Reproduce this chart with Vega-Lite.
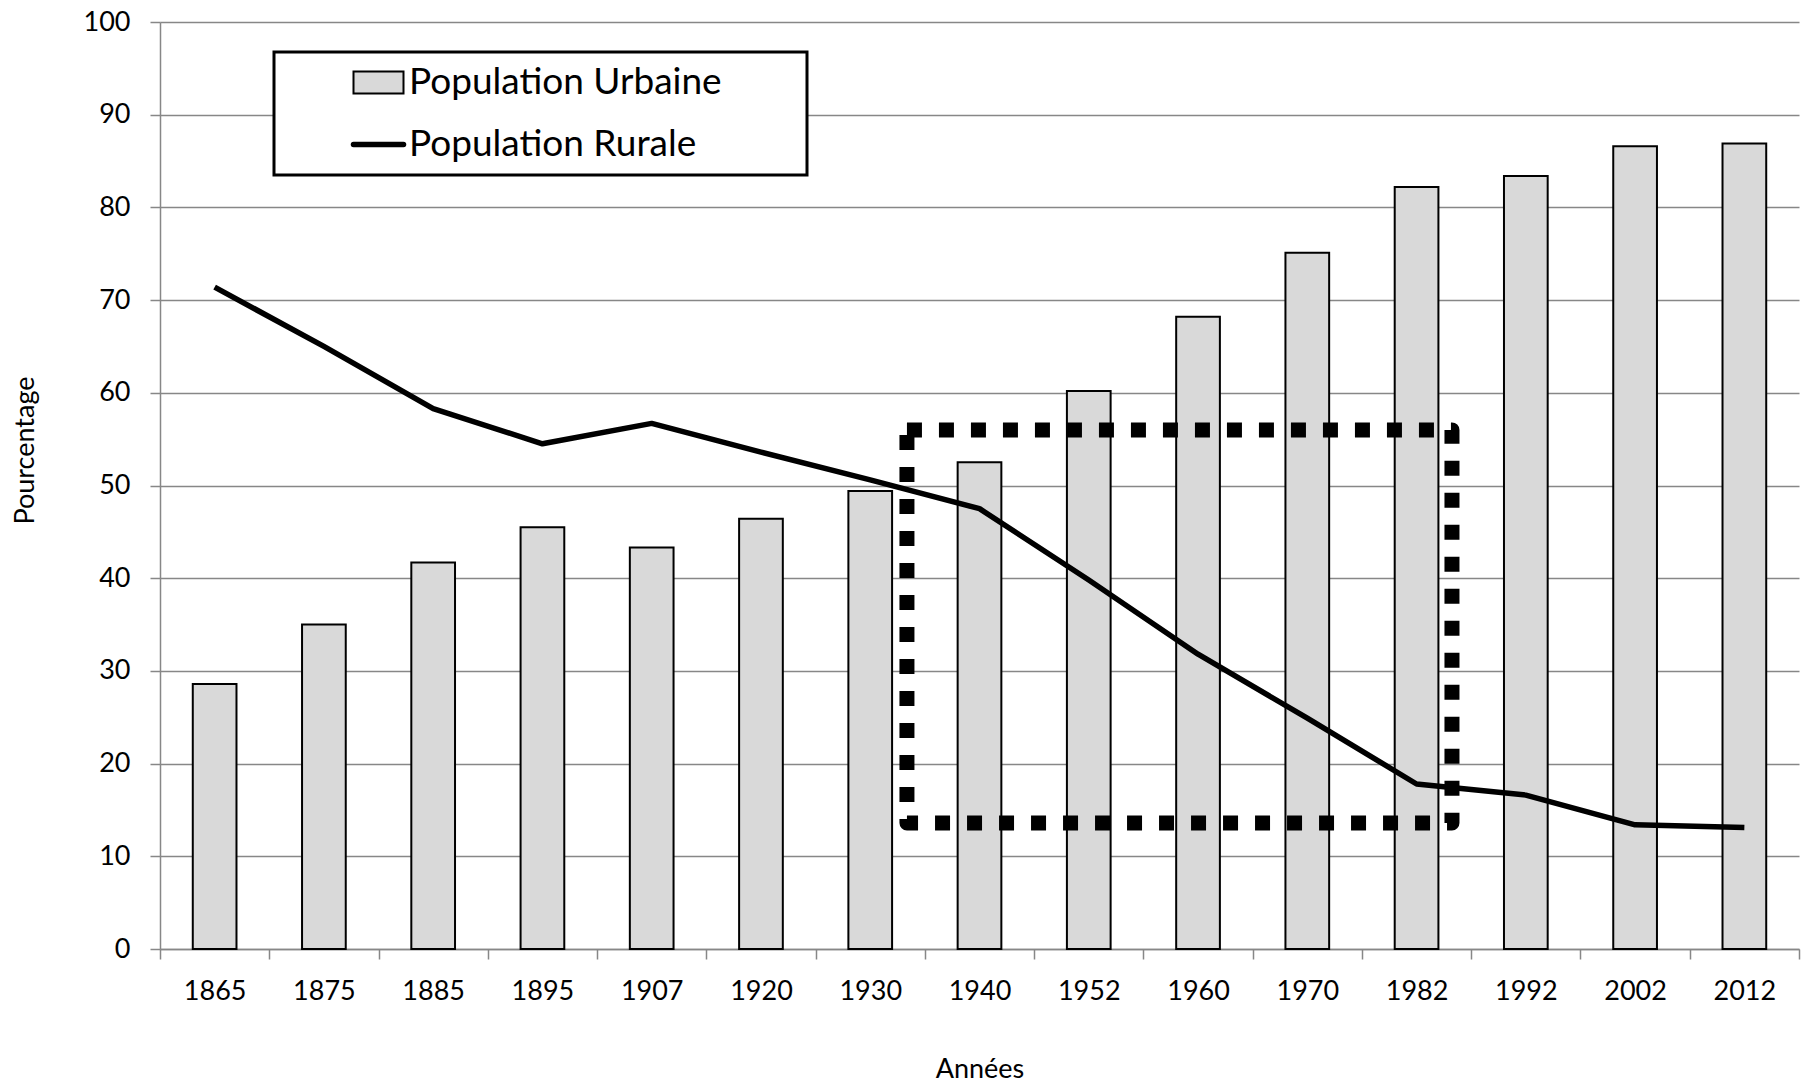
{
  "$schema": "https://vega.github.io/schema/vega-lite/v6.json",
  "width": 1639,
  "height": 927,
  "autosize": {"type": "none"},
  "padding": {"left": 160, "top": 22, "right": 9, "bottom": 136},
  "background": "white",
  "config": {"view": {"stroke": null}, "font": "Lato"},
  "data": {
    "values": [
      {"annee": "1865", "urbaine": 28.6, "rurale": 71.4},
      {"annee": "1875", "urbaine": 35.0, "rurale": 65.0},
      {"annee": "1885", "urbaine": 41.7, "rurale": 58.3},
      {"annee": "1895", "urbaine": 45.5, "rurale": 54.5},
      {"annee": "1907", "urbaine": 43.3, "rurale": 56.7},
      {"annee": "1920", "urbaine": 46.4, "rurale": 53.6},
      {"annee": "1930", "urbaine": 49.4, "rurale": 50.6},
      {"annee": "1940", "urbaine": 52.5, "rurale": 47.5},
      {"annee": "1952", "urbaine": 60.2, "rurale": 39.8},
      {"annee": "1960", "urbaine": 68.2, "rurale": 31.8},
      {"annee": "1970", "urbaine": 75.1, "rurale": 24.9},
      {"annee": "1982", "urbaine": 82.2, "rurale": 17.8},
      {"annee": "1992", "urbaine": 83.4, "rurale": 16.6},
      {"annee": "2002", "urbaine": 86.6, "rurale": 13.4},
      {"annee": "2012", "urbaine": 86.9, "rurale": 13.1}
    ]
  },
  "layer": [
    {
      "mark": {"type": "bar", "width": {"band": 0.4}, "stroke": "black", "strokeWidth": 2},
      "encoding": {
        "x": {
          "field": "annee",
          "type": "nominal",
          "title": "Années",
          "scale": {
            "domain": ["1865","1875","1885","1895","1907","1920","1930","1940","1952","1960","1970","1982","1992","2002","2012"],
            "paddingInner": 0,
            "paddingOuter": 0
          },
          "axis": {
            "tickBand": "extent",
            "labelAngle": 0,
            "labelFont": "Lato",
            "labelFontSize": 27,
            "labelColor": "black",
            "labelPadding": 19,
            "tickSize": 10,
            "tickColor": "#878787",
            "tickWidth": 1.5,
            "domainColor": "#878787",
            "domainWidth": 1.5,
            "grid": false,
            "titleFont": "Lato",
            "titleFontSize": 27,
            "titleFontWeight": "normal",
            "titleColor": "black",
            "titlePadding": 52
          }
        },
        "y": {
          "field": "urbaine",
          "type": "quantitative",
          "title": "Pourcentage",
          "scale": {"domain": [0, 100], "nice": false},
          "axis": {
            "values": [0,10,20,30,40,50,60,70,80,90,100],
            "grid": true,
            "gridColor": "#878787",
            "gridWidth": 1.5,
            "domainColor": "#878787",
            "domainWidth": 1.5,
            "tickColor": "#878787",
            "tickWidth": 1.5,
            "tickSize": 10,
            "labelFont": "Lato",
            "labelFontSize": 27,
            "labelColor": "black",
            "labelPadding": 20,
            "titleFont": "Lato",
            "titleFontSize": 27,
            "titleFontWeight": "normal",
            "titleColor": "black",
            "titlePadding": 44,
            "titleY": 428
          }
        },
        "fill": {
          "datum": "Population Urbaine",
          "type": "nominal",
          "scale": {"domain": ["Population Urbaine", "Population Rurale"], "range": ["#d9d9d9", "transparent"]},
          "legend": {
            "orient": "none",
            "legendX": 114,
            "legendY": 30,
            "title": null,
            "strokeColor": "black",
            "fillColor": "white",
            "padding": 12,
            "rowPadding": 24,
            "symbolSize": 1600,
            "symbolOffset": 74,
            "symbolStrokeColor": "black",
            "labelOffset": 12,
            "labelFont": "Lato",
            "labelFontSize": 37,
            "labelColor": "black",
            "labelLimit": 1000,
            "encode": {
              "legend": {"update": {"strokeWidth": {"value": 3}}},
              "symbols": {
                "update": {
                  "shape": {"signal": "datum.value == 'Population Rurale' ? 'M-1.25,0H1.25' : 'M-1.25,-0.55H1.25V0.55H-1.25ZM20.6,0'"},
                  "fill": {"signal": "datum.value == 'Population Rurale' ? 'transparent' : '#d9d9d9'"},
                  "stroke": {"value": "black"},
                  "strokeWidth": {"signal": "datum.value == 'Population Rurale' ? 5.5 : 2"},
                  "strokeCap": {"value": "round"},
                  "size": {"value": 1600},
                  "opacity": {"value": 1}
                }
              }
            }
          }
        }
      }
    },
    {
      "mark": {"type": "line", "strokeWidth": 5.5, "strokeJoin": "round"},
      "encoding": {
        "x": {"field": "annee", "type": "nominal", "title": "Années"},
        "y": {"field": "rurale", "type": "quantitative", "title": "Pourcentage"},
        "stroke": {
          "datum": "Population Rurale",
          "type": "nominal",
          "scale": {"domain": ["Population Urbaine", "Population Rurale"], "range": ["black", "black"]},
          "legend": {
            "orient": "none",
            "legendX": 114,
            "legendY": 30,
            "title": null,
            "strokeColor": "black",
            "fillColor": "white",
            "padding": 12,
            "rowPadding": 24,
            "symbolSize": 1600,
            "symbolOffset": 74,
            "symbolStrokeColor": "black",
            "labelOffset": 12,
            "labelFont": "Lato",
            "labelFontSize": 37,
            "labelColor": "black",
            "labelLimit": 1000,
            "encode": {
              "legend": {"update": {"strokeWidth": {"value": 3}}},
              "symbols": {
                "update": {
                  "shape": {"signal": "datum.value == 'Population Rurale' ? 'M-1.25,0H1.25' : 'M-1.25,-0.55H1.25V0.55H-1.25ZM20.6,0'"},
                  "fill": {"signal": "datum.value == 'Population Rurale' ? 'transparent' : '#d9d9d9'"},
                  "stroke": {"value": "black"},
                  "strokeWidth": {"signal": "datum.value == 'Population Rurale' ? 5.5 : 2"},
                  "strokeCap": {"value": "round"},
                  "size": {"value": 1600},
                  "opacity": {"value": 1}
                }
              }
            }
          }
        }
      }
    },
    {
      "data": {"values": [{"debut": "1930", "fin": "1982", "haut": 56, "bas": 13.6}]},
      "mark": {"type": "rect", "filled": false, "fill": "transparent", "stroke": "black", "strokeWidth": 15, "strokeDash": [15, 17], "strokeJoin": "round"},
      "encoding": {
        "x": {"field": "debut", "type": "nominal", "bandPosition": 0.836, "title": "Années"},
        "x2": {"field": "fin", "bandPosition": 0.824},
        "y": {"field": "haut", "type": "quantitative", "title": "Pourcentage"},
        "y2": {"field": "bas"}
      }
    }
  ]
}
